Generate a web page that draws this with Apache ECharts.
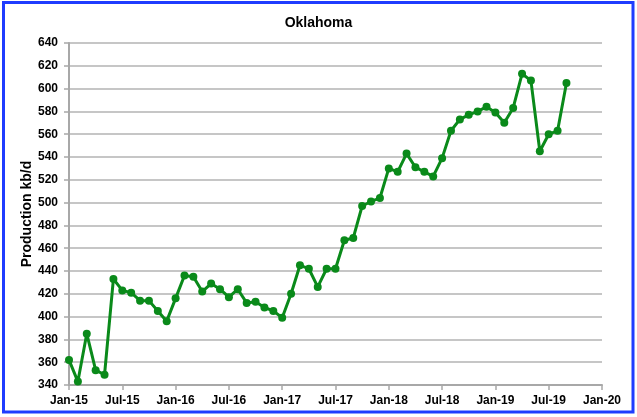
<!DOCTYPE html>
<html>
<head>
<meta charset="utf-8">
<script src="https://cdn.jsdelivr.net/npm/echarts@6/dist/echarts.min.js"></script>
<style>
  html, body { margin: 0; padding: 0; background: #fff; }
  #chart { width: 637px; height: 417px; }
</style>
</head>
<body>
<div id="chart"></div>
<script>
// month labels, Jan-15 .. Jan-20
const months = [
  "Jan-15","Feb-15","Mar-15","Apr-15","May-15","Jun-15","Jul-15","Aug-15","Sep-15","Oct-15","Nov-15","Dec-15",
  "Jan-16","Feb-16","Mar-16","Apr-16","May-16","Jun-16","Jul-16","Aug-16","Sep-16","Oct-16","Nov-16","Dec-16",
  "Jan-17","Feb-17","Mar-17","Apr-17","May-17","Jun-17","Jul-17","Aug-17","Sep-17","Oct-17","Nov-17","Dec-17",
  "Jan-18","Feb-18","Mar-18","Apr-18","May-18","Jun-18","Jul-18","Aug-18","Sep-18","Oct-18","Nov-18","Dec-18",
  "Jan-19","Feb-19","Mar-19","Apr-19","May-19","Jun-19","Jul-19","Aug-19","Sep-19","Oct-19","Nov-19","Dec-19",
  "Jan-20"
];

// production kb/d, Jan-15 .. Sep-19
const production = [
  362, 343, 385, 353, 349, 433, 423, 421, 414, 414, 405, 396,
  416, 436, 435, 422, 429, 424, 417, 424, 412, 413, 408, 405,
  399, 420, 445, 442, 426, 442, 442, 467, 469, 497, 501, 504,
  530, 527, 543, 531, 527, 523, 539, 563, 573, 577, 580, 584,
  579, 570, 583, 613, 607, 545, 560, 563, 605
];

const yTicks = { min: 340, max: 640, step: 20 };

const chart = echarts.init(document.getElementById("chart"));
const font = "Liberation Sans, Arial, sans-serif";

const option = {
  animation: false,
  backgroundColor: "#ffffff",
  title: {
    text: "Oklahoma",
    left: "center",
    top: 11,
    textStyle: { fontFamily: font, fontSize: 14, fontWeight: "bold", color: "#000" },
  },
  grid: {
    left: 69,
    right: 35,
    top: 43,
    bottom: 32,
  },
  xAxis: {
    type: "category",
    data: months,
    boundaryGap: false,
    axisLine: { show: true, lineStyle: { color: "#a8a8a8", width: 2 } },
    axisTick: { show: true, interval: 5, length: 5, lineStyle: { color: "#a8a8a8", width: 1.5 } },
    axisLabel: {
      interval: 5,
      margin: 10,
      fontFamily: font,
      fontSize: 12,
      fontWeight: "bold",
      color: "#000",
    },
    splitLine: { show: false },
  },
  yAxis: {
    type: "value",
    min: yTicks.min,
    max: yTicks.max,
    interval: yTicks.step,
    name: "Production kb/d",
    nameLocation: "middle",
    nameGap: 35,
    nameMoveOverlap: false,
    nameTextStyle: { fontFamily: font, fontSize: 14, fontWeight: "bold", color: "#000" },
    axisLine: { show: true, lineStyle: { color: "#a8a8a8", width: 2 } },
    axisTick: { show: true, length: 5, lineStyle: { color: "#a8a8a8", width: 1.5 } },
    axisLabel: {
      margin: 11,
      fontFamily: font,
      fontSize: 12,
      fontWeight: "bold",
      color: "#000",
    },
    splitLine: { show: true, lineStyle: { color: "#c6c6c6", width: 2 } },
  },
  series: [
    {
      name: "Oklahoma",
      type: "line",
      data: production,
      symbol: "circle",
      symbolSize: 8,
      showSymbol: true,
      showAllSymbol: true,
      lineStyle: { color: "#0a8a1a", width: 3 },
      itemStyle: { color: "#0a8a1a" },
    },
  ],
  graphic: [
    {
      type: "rect",
      shape: { x: 3.5, y: 2.5, width: 629.5, height: 409.5 },
      style: { fill: "none", stroke: "#1f3cff", lineWidth: 3 },
      silent: true,
    },
  ],
};

chart.setOption(option);
</script>
</body>
</html>
